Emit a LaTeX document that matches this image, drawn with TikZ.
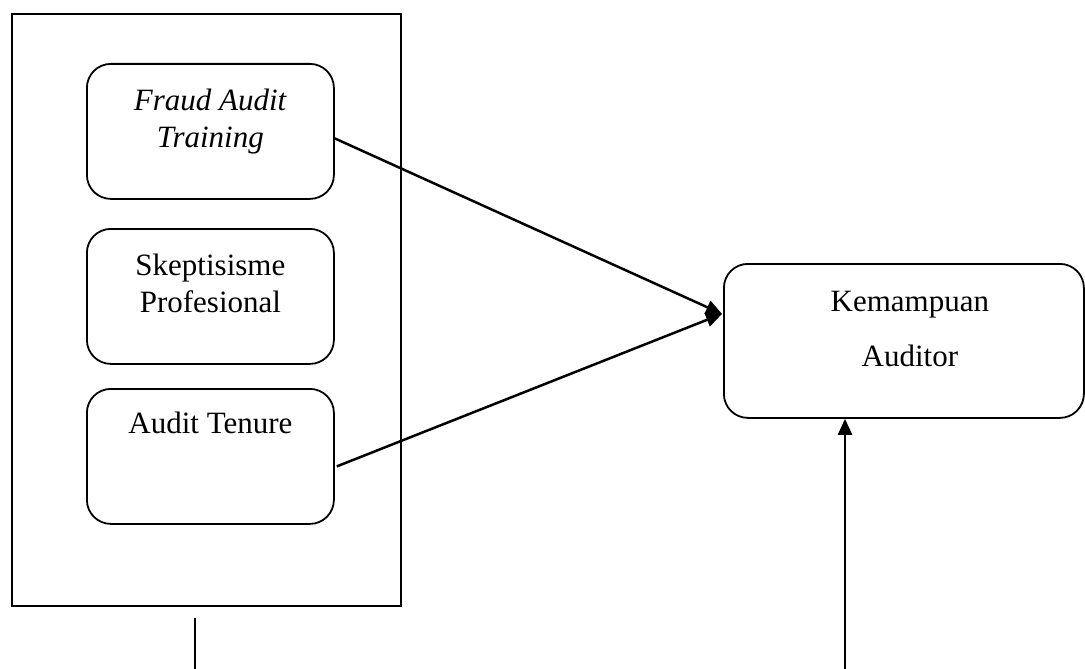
\documentclass[tikz,border=0pt]{standalone}
\usepackage{fontspec}
\setmainfont{Liberation Serif}
\usetikzlibrary{arrows.meta,calc}
\begin{document}
\begin{tikzpicture}[x=1pt,y=-1pt,
  inbox/.style={draw,line width=1.8pt,rounded corners=24pt,minimum width=247pt,minimum height=135pt,anchor=north west,inner sep=0pt},
  txt/.style={anchor=north,inner sep=0pt,align=center,font=\fontsize{31}{37}\selectfont},
  conn/.style={line width=2.5pt},
  tip/.style={-{Triangle[length=16pt,width=14pt]}}]
\useasboundingbox (0,0) rectangle (1085,669);
\node[draw,line width=1.6pt,minimum width=389pt,minimum height=592pt,anchor=north west,inner sep=0pt] (outer) at (11,13) {};
\node[inbox] (b1) at (86,63) {};
\node[inbox] (b2) at (86,228) {};
\node[inbox] (b3) at (86,388) {};
\node[inbox,minimum width=360pt,minimum height=154pt] (k) at (723,263) {};
\node[txt] (t1) at ($(b1.north)+(0,26)$) {\textit{Fraud Audit}\\\textit{Training}};
\node[txt] (t2) at ($(b2.north)+(0,26)$) {Skeptisisme\\Profesional};
\node[txt] (t3) at ($(b3.north)+(0,24)$) {Audit Tenure};
\node[txt,font=\fontsize{31}{55}\selectfont] (t4) at ($(k.north)+(6,28)$) {Kemampuan\\Auditor};
\coordinate (kin) at ($(k.west)+(-1,-27)$);
\coordinate (s1) at ($(b1.east)+(0,7)$);
\coordinate (s3) at ($(b3.east)+(2,10)$);
\draw[conn,tip] (s1) -- (kin);
\draw[conn,tip] (s3) -- (kin);
\coordinate (l1) at (195,618);
\coordinate (l2) at (195,669);
\draw[line width=1.6pt] (l1) -- (l2);
\coordinate (l3) at (845,669);
\draw[conn,tip] (l3) -- (l3 |- k.south);
\end{tikzpicture}
\end{document}
